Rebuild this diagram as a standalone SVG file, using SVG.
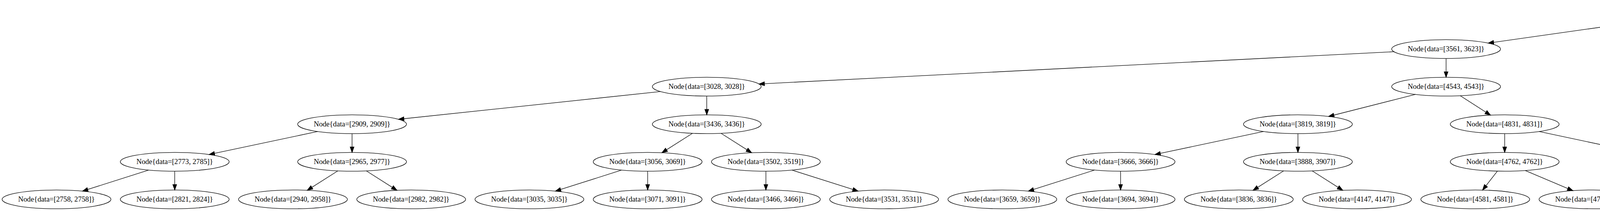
<svg xmlns="http://www.w3.org/2000/svg" width="6872" height="539" viewBox="0 0 6872 539">
<style>
.n ellipse{fill:none;stroke:#000;stroke-width:1.33}
.n text{font-family:"Liberation Serif","Times New Roman",serif;font-size:18.67px;text-anchor:middle;fill:#000}
#edges line{stroke:#000;stroke-width:1.33;marker-end:url(#ah)}
</style>
<defs>
<marker id="ah" markerUnits="userSpaceOnUse" markerWidth="14" markerHeight="10" viewBox="0 0 13.33 9.33" refX="13.33" refY="4.67" orient="auto" overflow="visible">
<path d="M0,0 L13.33,4.67 L0,9.33 z" fill="#000" stroke="#000" stroke-width="1.33"/>
</marker>
</defs>
<rect width="6872" height="539" fill="#fff"/>
<g id="edges">
<line x1="4274.24" y1="44.54" x2="3809.76" y2="110.12"/>
<line x1="4489.76" y1="44.54" x2="4954.24" y2="110.12"/>
<line x1="3568.35" y1="132.11" x2="1942.98" y2="214.55"/>
<line x1="3702" y1="149.33" x2="3702" y2="197.33"/>
<line x1="5062" y1="149.33" x2="5062" y2="197.33"/>
<line x1="5180.75" y1="137.88" x2="5851.25" y2="208.78"/>
<line x1="1690.58" y1="233.88" x2="1020.08" y2="304.78"/>
<line x1="1809.33" y1="245.33" x2="1809.33" y2="293.33"/>
<line x1="3623.6" y1="241.17" x2="3401.07" y2="297.49"/>
<line x1="3738.21" y1="244.51" x2="3815.79" y2="294.15"/>
<line x1="5025.49" y1="244.49" x2="4947.18" y2="294.17"/>
<line x1="5098.51" y1="244.49" x2="5176.82" y2="294.17"/>
<line x1="5970" y1="245.33" x2="5970" y2="293.33"/>
<line x1="6058" y1="239.94" x2="6336" y2="298.72"/>
<line x1="813.33" y1="335.94" x2="535.33" y2="394.72"/>
<line x1="901.33" y1="341.33" x2="901.33" y2="389.33"/>
<line x1="1772.82" y1="340.49" x2="1694.51" y2="390.17"/>
<line x1="1845.84" y1="340.49" x2="1924.16" y2="390.17"/>
<line x1="3234.67" y1="335.94" x2="2956.67" y2="394.72"/>
<line x1="3322.67" y1="341.33" x2="3322.67" y2="389.33"/>
<line x1="3852" y1="341.33" x2="3852" y2="389.33"/>
<line x1="3939.87" y1="335.94" x2="4217.46" y2="394.72"/>
<line x1="4844.18" y1="338.42" x2="4674.49" y2="392.24"/>
<line x1="4910.67" y1="341.33" x2="4910.67" y2="389.33"/>
<line x1="5213.33" y1="341.33" x2="5213.33" y2="389.33"/>
<line x1="5279.82" y1="338.42" x2="5449.51" y2="392.24"/>
<line x1="5933.49" y1="340.49" x2="5855.18" y2="390.17"/>
<line x1="6006.51" y1="340.49" x2="6084.82" y2="390.17"/>
<line x1="6424" y1="341.33" x2="6424" y2="389.33"/>
<line x1="6490.49" y1="338.42" x2="6660.18" y2="392.24"/>
<line x1="380.84" y1="434.42" x2="211.16" y2="488.24"/>
<line x1="447.33" y1="437.33" x2="447.33" y2="485.33"/>
<line x1="864.82" y1="436.49" x2="786.51" y2="486.17"/>
<line x1="937.84" y1="436.49" x2="1016.16" y2="486.17"/>
<line x1="1591.51" y1="434.42" x2="1421.82" y2="488.24"/>
<line x1="1658" y1="437.33" x2="1658" y2="485.33"/>
<line x1="1960.67" y1="437.33" x2="1960.67" y2="485.33"/>
<line x1="2027.16" y1="434.42" x2="2196.84" y2="488.24"/>
<line x1="2802.18" y1="434.42" x2="2632.49" y2="488.24"/>
<line x1="2868.67" y1="437.33" x2="2868.67" y2="485.33"/>
<line x1="3286.16" y1="436.49" x2="3207.84" y2="486.17"/>
<line x1="3359.18" y1="436.49" x2="3437.49" y2="486.17"/>
<line x1="3833.34" y1="437.11" x2="3795.33" y2="485.55"/>
<line x1="3904.62" y1="435.55" x2="4026.71" y2="487.11"/>
<line x1="4324.32" y1="437.11" x2="4363.01" y2="485.55"/>
<line x1="4383.73" y1="433.17" x2="4606.27" y2="489.49"/>
<line x1="6726.67" y1="437.33" x2="6726.67" y2="485.33"/>
</g>
<g id="n1" class="n" transform="translate(4382,29.33)"><ellipse rx="139.33" ry="24"/><text y="5.5">Node{data=[4981, 5073]}</text></g>
<g id="n2" class="n" transform="translate(3702,125.33)"><ellipse rx="139.33" ry="24"/><text y="5.5">Node{data=[3561, 3623]}</text></g>
<g id="n3" class="n" transform="translate(5062,125.33)"><ellipse rx="139.33" ry="24"/><text y="5.5">Node{data=[5311, 5311]}</text></g>
<g id="n4" class="n" transform="translate(1809.33,221.33)"><ellipse rx="139.33" ry="24"/><text y="5.5">Node{data=[3028, 3028]}</text></g>
<g id="n5" class="n" transform="translate(3702,221.33)"><ellipse rx="139.33" ry="24"/><text y="5.5">Node{data=[4543, 4543]}</text></g>
<g id="n6" class="n" transform="translate(5062,221.33)"><ellipse rx="139.33" ry="24"/><text y="5.5">Node{data=[5164, 5164]}</text></g>
<g id="n7" class="n" transform="translate(5970,221.33)"><ellipse rx="139.33" ry="24"/><text y="5.5">Node{data=[5571, 5571]}</text></g>
<g id="n8" class="n" transform="translate(901.33,317.33)"><ellipse rx="139.33" ry="24"/><text y="5.5">Node{data=[2909, 2909]}</text></g>
<g id="n9" class="n" transform="translate(1809.33,317.33)"><ellipse rx="139.33" ry="24"/><text y="5.5">Node{data=[3436, 3436]}</text></g>
<g id="n10" class="n" transform="translate(3322.67,317.33)"><ellipse rx="139.33" ry="24"/><text y="5.5">Node{data=[3819, 3819]}</text></g>
<g id="n11" class="n" transform="translate(3852,317.33)"><ellipse rx="139.33" ry="24"/><text y="5.5">Node{data=[4831, 4831]}</text></g>
<g id="n12" class="n" transform="translate(4910.67,317.33)"><ellipse rx="139.33" ry="24"/><text y="5.5">Node{data=[5108, 5126]}</text></g>
<g id="n13" class="n" transform="translate(5213.33,317.33)"><ellipse rx="139.33" ry="24"/><text y="5.5">Node{data=[5195, 5195]}</text></g>
<g id="n14" class="n" transform="translate(5970,317.33)"><ellipse rx="139.33" ry="24"/><text y="5.5">Node{data=[5464, 5464]}</text></g>
<g id="n15" class="n" transform="translate(6424,317.33)"><ellipse rx="139.33" ry="24"/><text y="5.5">Node{data=[5643, 5643]}</text></g>
<g id="n16" class="n" transform="translate(447.33,413.33)"><ellipse rx="139.33" ry="24"/><text y="5.5">Node{data=[2773, 2785]}</text></g>
<g id="n17" class="n" transform="translate(901.33,413.33)"><ellipse rx="139.33" ry="24"/><text y="5.5">Node{data=[2965, 2977]}</text></g>
<g id="n18" class="n" transform="translate(1658,413.33)"><ellipse rx="139.33" ry="24"/><text y="5.5">Node{data=[3056, 3069]}</text></g>
<g id="n19" class="n" transform="translate(1960.67,413.33)"><ellipse rx="139.33" ry="24"/><text y="5.5">Node{data=[3502, 3519]}</text></g>
<g id="n20" class="n" transform="translate(2868.67,413.33)"><ellipse rx="139.33" ry="24"/><text y="5.5">Node{data=[3666, 3666]}</text></g>
<g id="n21" class="n" transform="translate(3322.67,413.33)"><ellipse rx="139.33" ry="24"/><text y="5.5">Node{data=[3888, 3907]}</text></g>
<g id="n22" class="n" transform="translate(3852,413.33)"><ellipse rx="139.33" ry="24"/><text y="5.5">Node{data=[4762, 4762]}</text></g>
<g id="n23" class="n" transform="translate(4305.33,413.33)"><ellipse rx="139.33" ry="24"/><text y="5.5">Node{data=[4911, 4911]}</text></g>
<g id="n24" class="n" transform="translate(4608,413.33)"><ellipse rx="139.33" ry="24"/><text y="5.5">Node{data=[5105, 5105]}</text></g>
<g id="n25" class="n" transform="translate(4910.67,413.33)"><ellipse rx="139.33" ry="24"/><text y="5.5">Node{data=[5140, 5140]}</text></g>
<g id="n26" class="n" transform="translate(5213.33,413.33)"><ellipse rx="139.33" ry="24"/><text y="5.5">Node{data=[5166, 5182]}</text></g>
<g id="n27" class="n" transform="translate(5516,413.33)"><ellipse rx="139.33" ry="24"/><text y="5.5">Node{data=[5273, 5303]}</text></g>
<g id="n28" class="n" transform="translate(5818.67,413.33)"><ellipse rx="139.33" ry="24"/><text y="5.5">Node{data=[5446, 5446]}</text></g>
<g id="n29" class="n" transform="translate(6121.33,413.33)"><ellipse rx="139.33" ry="24"/><text y="5.5">Node{data=[5488, 5506]}</text></g>
<g id="n30" class="n" transform="translate(6424,413.33)"><ellipse rx="139.33" ry="24"/><text y="5.5">Node{data=[5604, 5607]}</text></g>
<g id="n31" class="n" transform="translate(6726.67,413.33)"><ellipse rx="139.33" ry="24"/><text y="5.5">Node{data=[9655, 9670]}</text></g>
<g id="n32" class="n" transform="translate(144.67,509.33)"><ellipse rx="139.33" ry="24"/><text y="5.5">Node{data=[2758, 2758]}</text></g>
<g id="n33" class="n" transform="translate(447.33,509.33)"><ellipse rx="139.33" ry="24"/><text y="5.5">Node{data=[2821, 2824]}</text></g>
<g id="n34" class="n" transform="translate(750,509.33)"><ellipse rx="139.33" ry="24"/><text y="5.5">Node{data=[2940, 2958]}</text></g>
<g id="n35" class="n" transform="translate(1052.67,509.33)"><ellipse rx="139.33" ry="24"/><text y="5.5">Node{data=[2982, 2982]}</text></g>
<g id="n36" class="n" transform="translate(1355.33,509.33)"><ellipse rx="139.33" ry="24"/><text y="5.5">Node{data=[3035, 3035]}</text></g>
<g id="n37" class="n" transform="translate(1658,509.33)"><ellipse rx="139.33" ry="24"/><text y="5.5">Node{data=[3071, 3091]}</text></g>
<g id="n38" class="n" transform="translate(1960.67,509.33)"><ellipse rx="139.33" ry="24"/><text y="5.5">Node{data=[3466, 3466]}</text></g>
<g id="n39" class="n" transform="translate(2263.33,509.33)"><ellipse rx="139.33" ry="24"/><text y="5.5">Node{data=[3531, 3531]}</text></g>
<g id="n40" class="n" transform="translate(2566,509.33)"><ellipse rx="139.33" ry="24"/><text y="5.5">Node{data=[3659, 3659]}</text></g>
<g id="n41" class="n" transform="translate(2868.67,509.33)"><ellipse rx="139.33" ry="24"/><text y="5.5">Node{data=[3694, 3694]}</text></g>
<g id="n42" class="n" transform="translate(3171.33,509.33)"><ellipse rx="139.33" ry="24"/><text y="5.5">Node{data=[3836, 3836]}</text></g>
<g id="n43" class="n" transform="translate(3474,509.33)"><ellipse rx="139.33" ry="24"/><text y="5.5">Node{data=[4147, 4147]}</text></g>
<g id="n44" class="n" transform="translate(3776.67,509.33)"><ellipse rx="139.33" ry="24"/><text y="5.5">Node{data=[4581, 4581]}</text></g>
<g id="n45" class="n" transform="translate(4079.33,509.33)"><ellipse rx="139.33" ry="24"/><text y="5.5">Node{data=[4780, 4799]}</text></g>
<g id="n46" class="n" transform="translate(4382,509.33)"><ellipse rx="139.33" ry="24"/><text y="5.5">Node{data=[4894, 4894]}</text></g>
<g id="n47" class="n" transform="translate(4684.67,509.33)"><ellipse rx="139.33" ry="24"/><text y="5.5">Node{data=[4934, 4952]}</text></g>
<g id="n48" class="n" transform="translate(6726.67,509.33)"><ellipse rx="139.33" ry="24"/><text y="5.5">Node{data=[9688, 9688]}</text></g>
</svg>
